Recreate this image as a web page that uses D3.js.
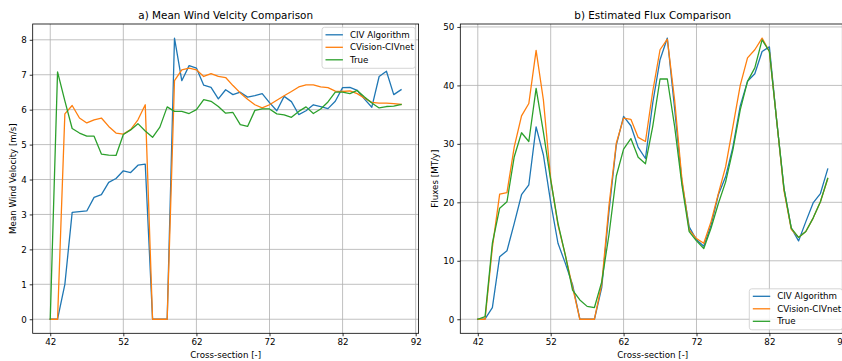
<!DOCTYPE html>
<html>
<head>
<meta charset="utf-8">
<script src="https://cdn.jsdelivr.net/npm/d3@7"></script>
<style>
  html, body { margin: 0; padding: 0; background: #fff; }
  svg { display: block; font-family: "DejaVu Sans", sans-serif; }
</style>
</head>
<body>
<svg id="chart" width="842" height="361"></svg>
<script>
// Cross-section indices shared by both panels
const crossSections = [42, 43, 44, 45, 46, 47, 48, 49, 50, 51, 52, 53, 54, 55, 56, 57, 58, 59, 60, 61,
  62, 63, 64, 65, 66, 67, 68, 69, 70, 71, 72, 73, 74, 75, 76, 77, 78, 79, 80, 81,
  82, 83, 84, 85, 86, 87, 88, 89, 90];

// Panel a) mean wind velocity [m/s]
const velocityCIV = [0, 0, 1.0, 3.06, 3.08, 3.1, 3.49, 3.57, 3.92, 4.03, 4.25, 4.2, 4.41, 4.44, 0, 0, 0,
  8.05, 6.83, 7.26, 7.19, 6.7, 6.64, 6.31, 6.57, 6.43, 6.5, 6.36, 6.4, 6.46, 6.2, 5.97, 6.38, 6.23,
  5.86, 5.97, 6.14, 6.09, 6.03, 6.24, 6.63, 6.64, 6.55, 6.3, 6.07, 6.95, 7.1, 6.43, 6.57];
const velocityNet = [0, 0, 5.88, 6.12, 5.76, 5.62, 5.71, 5.76, 5.52, 5.33, 5.3, 5.43, 5.71, 6.14, 0, 0, 0,
  6.83, 7.14, 7.19, 7.14, 6.95, 7.03, 6.95, 6.92, 6.69, 6.48, 6.3, 6.14, 6.05, 6.14, 6.27, 6.4, 6.52,
  6.65, 6.71, 6.71, 6.65, 6.63, 6.53, 6.52, 6.54, 6.46, 6.33, 6.21, 6.19, 6.19, 6.17, 6.15];
const velocityTrue = [0, 7.08, 6.25, 5.46, 5.33, 5.24, 5.24, 4.73, 4.7, 4.69, 5.29, 5.42, 5.6, 5.39, 5.21, 5.5, 6.08,
  5.95, 5.95, 5.89, 6.0, 6.29, 6.24, 6.09, 5.9, 5.92, 5.57, 5.52, 5.98, 6.02, 6.02, 5.88, 5.85, 5.78,
  5.95, 6.08, 5.89, 6.02, 6.22, 6.5, 6.5, 6.46, 6.55, 6.36, 6.19, 6.05, 6.09, 6.1, 6.15];

// Panel b) estimated flux [MT/y]
const fluxCIV = [0, 0.05, 2.0, 10.7, 11.7, 16.4, 21.3, 23.0, 32.9, 28.1, 20.0, 13.0, 9.6, 5.9, 0, 0, 0,
  5.4, 18.5, 29.8, 34.7, 33.1, 29.4, 27.5, 37.0, 44.4, 48.1, 36.0, 23.5, 15.8, 13.6, 12.5, 16.1, 21.3,
  24.4, 29.5, 36.5, 40.7, 42.0, 45.8, 46.6, 34.0, 22.4, 15.6, 13.4, 16.7, 19.9, 21.5, 25.7];
const fluxNet = [0, 0, 12.3, 21.4, 21.65, 29.5, 34.8, 36.9, 46.0, 37.5, 24.0, 16.1, 11.0, 5.5, 0, 0, 0,
  6.0, 19.5, 30.1, 34.4, 34.2, 31.1, 30.4, 39.0, 46.1, 47.9, 37.5, 24.0, 15.3, 13.8, 13.0, 16.7, 21.5,
  26.1, 33.0, 40.0, 44.7, 46.1, 48.1, 45.8, 34.0, 22.0, 15.4, 14.0, 15.0, 17.3, 20.1, 24.0];
const fluxTrue = [0, 0.45, 13.0, 19.0, 20.1, 27.8, 31.9, 30.4, 39.5, 32.0, 23.8, 16.4, 11.0, 5.0, 3.3, 2.2, 2.0,
  6.4, 14.5, 24.5, 29.1, 30.9, 27.7, 26.6, 33.0, 41.1, 41.1, 33.0, 23.0, 15.0, 13.4, 12.1, 15.6, 19.8,
  23.5, 29.0, 35.8, 40.7, 43.0, 47.8, 45.8, 34.0, 22.4, 15.6, 14.0, 15.0, 17.3, 20.1, 24.1];

const seriesNames = ["CIV Algorithm", "CVision-CIVnet", "True"];
const seriesColors = ["#1f77b4", "#ff7f0e", "#2ca02c"];

const xTicks = [42, 52, 62, 72, 82, 92];
const velocityTicks = [0, 1, 2, 3, 4, 5, 6, 7, 8];
const fluxTicks = [0, 10, 20, 30, 40, 50];

const svg = d3.select("#chart");
const FONT = 8.7;
const TITLE_FONT = 10.4;

// matplotlib-style 5% data margins
function paddedExtent(values) {
  const [lo, hi] = d3.extent(values);
  const pad = (hi - lo) * 0.05;
  return [lo - pad, hi + pad];
}

function drawPanel(opts) {
  const { left, right, top, bottom, title, yLabel, yLabelX, seriesValues, yTicks, legend } = opts;
  const g = svg.append("g");

  const x = d3.scaleLinear().domain(paddedExtent(crossSections)).range([left, right]);
  const y = d3.scaleLinear().domain(paddedExtent(seriesValues.flat())).range([bottom, top]);

  const clipId = "clip" + Math.round(left);
  svg.append("clipPath").attr("id", clipId)
    .append("rect").attr("x", left).attr("y", top).attr("width", right - left).attr("height", bottom - top);

  // grid
  const grid = g.append("g").attr("stroke", "#b0b0b0").attr("stroke-width", 0.8);
  grid.selectAll("line.vx").data(xTicks.filter(t => x(t) <= right)).join("line")
    .attr("x1", d => x(d)).attr("x2", d => x(d)).attr("y1", top).attr("y2", bottom);
  grid.selectAll("line.hy").data(yTicks).join("line")
    .attr("y1", d => y(d)).attr("y2", d => y(d)).attr("x1", left).attr("x2", right);

  // series lines
  const line = d3.line().x((d, i) => x(crossSections[i])).y(d => y(d));
  g.append("g").attr("clip-path", `url(#${clipId})`)
    .selectAll("path").data(seriesValues).join("path")
    .attr("d", d => line(d))
    .attr("fill", "none")
    .attr("stroke", (d, i) => seriesColors[i])
    .attr("stroke-width", 1.3)
    .attr("stroke-linejoin", "round")
    .attr("stroke-linecap", "square");

  // axes
  const xAxis = d3.axisBottom(x).tickValues(xTicks).tickSize(3).tickPadding(3).tickFormat(d3.format("d"));
  const yAxis = d3.axisLeft(y).tickValues(yTicks).tickSize(3).tickPadding(3).tickFormat(d3.format("d"));
  const gx = g.append("g").attr("transform", `translate(0,${bottom})`).call(xAxis);
  const gy = g.append("g").attr("transform", `translate(${left},0)`).call(yAxis);
  [gx, gy].forEach(a => {
    a.select(".domain").remove();
    a.selectAll("line").attr("stroke", "#000").attr("stroke-width", 0.8);
    a.selectAll("text").attr("fill", "#000").attr("font-size", FONT).attr("font-family", "DejaVu Sans");
  });

  // frame
  g.append("rect").attr("x", left).attr("y", top).attr("width", right - left).attr("height", bottom - top)
    .attr("fill", "none").attr("stroke", "#000").attr("stroke-width", 0.8);

  // titles and labels
  const cx = (left + right) / 2;
  g.append("text").attr("x", cx).attr("y", top - 5.2).attr("text-anchor", "middle")
    .attr("font-size", TITLE_FONT).text(title);
  g.append("text").attr("x", cx).attr("y", 357.5).attr("text-anchor", "middle")
    .attr("font-size", FONT).text("Cross-section [-]");
  g.append("text").attr("transform", `translate(${yLabelX},${(top + bottom) / 2}) rotate(-90)`)
    .attr("text-anchor", "middle").attr("font-size", FONT).text(yLabel);

  // legend
  const lg = g.append("g").attr("transform", `translate(${legend.x},${legend.y})`);
  lg.append("rect").attr("width", 93.3).attr("height", 41).attr("rx", 2.5)
    .attr("fill", "#fff").attr("fill-opacity", 0.8).attr("stroke", "#cccccc").attr("stroke-width", 0.8);
  const rows = [7.5, 20, 32.5];
  const item = lg.selectAll("g.item").data(seriesNames).join("g")
    .attr("transform", (d, i) => `translate(0,${rows[i]})`);
  item.append("line").attr("x1", 3.5).attr("x2", 20.9)
    .attr("stroke", (d, i) => seriesColors[i]).attr("stroke-width", 1.3);
  item.append("text").attr("x", 27.9).attr("dy", "0.35em").attr("font-size", FONT).text(d => d);
}

drawPanel({
  left: 32.7, right: 418.6, top: 24, bottom: 333.3,
  title: "a) Mean Wind Velcity Comparison",
  yLabel: "Mean Wind Velocity [m/s]", yLabelX: 15.5,
  seriesValues: [velocityCIV, velocityNet, velocityTrue],
  yTicks: velocityTicks,
  legend: { x: 322, y: 27.3 }
});

drawPanel({
  left: 460.3, right: 845.2, top: 24, bottom: 333.3,
  title: "b) Estimated Flux Comparison",
  yLabel: "Fluxes [MT/y]", yLabelX: 438,
  seriesValues: [fluxCIV, fluxNet, fluxTrue],
  yTicks: fluxTicks,
  legend: { x: 749.3, y: 288.8 }
});
</script>
</body>
</html>
